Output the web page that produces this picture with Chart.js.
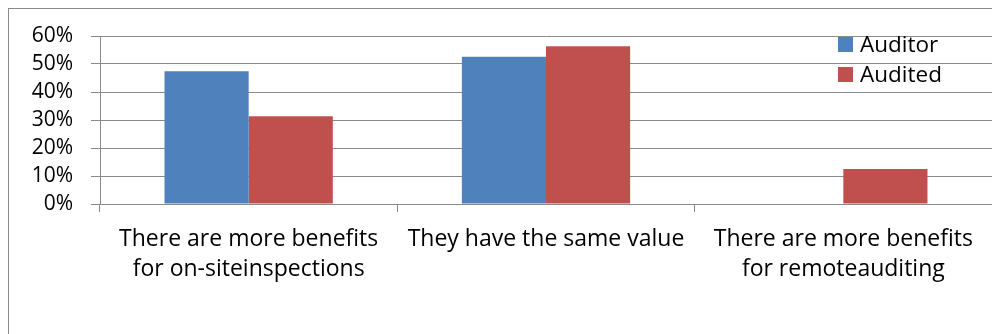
<!DOCTYPE html>
<html>
<head>
<meta charset="utf-8">
<script src="https://cdn.jsdelivr.net/npm/chart.js@4"></script>
<style>
  html, body { margin: 0; padding: 0; background: #fff; }
  #wrap { position: relative; width: 992px; height: 334px; overflow: hidden; }
  #frame { position: absolute; left: 8px; top: 8px; width: 1100px; height: 400px; border: 1px solid #8a8a8a; box-sizing: border-box; }
  canvas { position: absolute; left: 0; top: 0; }
</style>
</head>
<body>
<div id="wrap">
  <div id="frame"></div>
  <canvas id="chart" width="992" height="334"></canvas>
</div>
<script>
// ===== Data =====
const categories = [
  ["There are more benefits", "for on-siteinspections"],
  ["They have the same value"],
  ["There are more benefits", "for remoteauditing"]
];
const auditor = [47.4, 52.6, 0];
const audited = [31.3, 56.3, 12.5];
const seriesNames = ["Auditor", "Audited"];
const seriesColors = ["#4f81bd", "#c0504d"];

const FONT = "'Open Sans', 'DejaVu Sans', sans-serif";

// ===== Legend kanan atas (di dalam area plot) =====
const legendPlugin = {
  id: "cornerLegend",
  afterDraw(chart) {
    const ctx = chart.ctx;
    ctx.save();
    ctx.font = "22.5px " + FONT;
    ctx.textBaseline = "alphabetic";
    chart.data.datasets.forEach((ds, i) => {
      const y = 37 + i * 30;
      ctx.fillStyle = ds.backgroundColor;
      ctx.fillRect(838, y, 15, 15);
      ctx.fillStyle = "#000";
      ctx.fillText(ds.label, 860, y + 15);
    });
    ctx.restore();
  }
};

// ===== Chart =====
new Chart(document.getElementById("chart"), {
  type: "bar",
  data: {
    labels: categories,
    datasets: [
      { label: seriesNames[0], data: auditor, backgroundColor: seriesColors[0] },
      { label: seriesNames[1], data: audited, backgroundColor: seriesColors[1] }
    ]
  },
  options: {
    responsive: false,
    animation: false,
    layout: { padding: { top: 36, right: 0, left: 0, bottom: 0 } },
    datasets: { bar: { categoryPercentage: 0.566, barPercentage: 1 } },
    plugins: { legend: { display: false }, tooltip: { enabled: false } },
    scales: {
      x: {
        grid: { offset: true, drawOnChartArea: false, color: "#8a8a8a", tickLength: 8 },
        border: { color: "#8a8a8a" },
        ticks: {
          autoSkip: false, maxRotation: 0, padding: 12, color: "#000",
          font: { family: FONT, size: 23, lineHeight: 1.32 }
        },
        afterFit(scale) { scale.height = 130; }
      },
      y: {
        min: 0, max: 60,
        grid: { color: "#8a8a8a", tickLength: 9 },
        border: { color: "#8a8a8a" },
        ticks: {
          autoSkip: false, stepSize: 10, padding: 18, color: "#000",
          font: { family: FONT, size: 21 },
          callback: v => v + "%"
        },
        afterFit(scale) { scale.width = 100; }
      }
    }
  },
  plugins: [legendPlugin]
});
</script>
</body>
</html>
